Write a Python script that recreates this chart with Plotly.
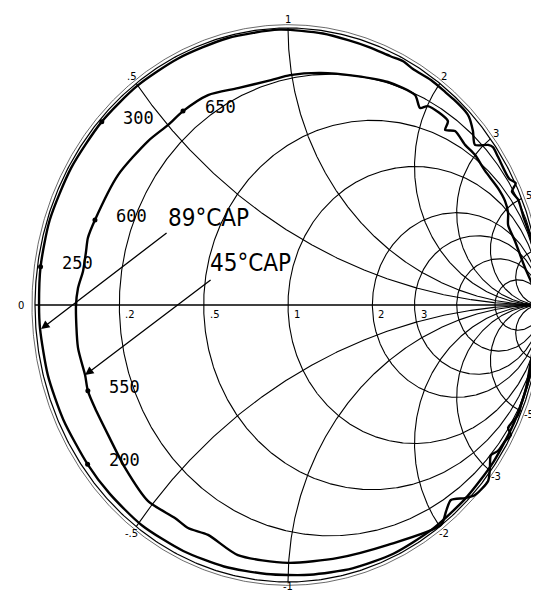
import numpy as np
import plotly.graph_objects as go

# ---------------- data (reflection coefficient) ----------------
# 89 deg CAP trace (outer), clockwise from low frequency
cap89_re = [0.99, 0.986, 0.956, 0.897, 0.811, 0.700, 0.568, 0.418, 0.255, 0.085, -0.085,
            -0.253, -0.414, -0.578, -0.705, -0.792, -0.888, -0.949, -0.980, -0.984, -0.978,
            -0.942, -0.857, -0.736, -0.596, -0.434, -0.240, -0.035, 0.138, 0.238, 0.320,
            0.405, 0.455, 0.494, 0.565, 0.62, 0.655, 0.70, 0.715, 0.731, 0.739, 0.791, 0.81,
            0.83, 0.875, 0.90, 0.885, 0.91, 0.93, 0.96, 0.975, 0.985, 0.99]
cap89_im = [-0.01, -0.086, -0.256, -0.418, -0.568, -0.700, -0.811, -0.897, -0.951, -0.974,
            -0.971, -0.944, -0.888, -0.795, -0.681, -0.575, -0.414, -0.254, -0.086, 0.0,
            0.138, 0.306, 0.495, 0.662, 0.791, 0.890, 0.963, 0.994, 0.980, 0.956, 0.931,
            0.898, 0.88, 0.852, 0.812, 0.77, 0.742, 0.70, 0.68, 0.628, 0.578, 0.578, 0.57,
            0.535, 0.455, 0.44, 0.41, 0.38, 0.32, 0.24, 0.165, 0.078, 0.01]

# 45 deg CAP trace (inner)
cap45_re = [0.988, 0.976, 0.960, 0.941, 0.921, 0.909, 0.870, 0.881, 0.858, 0.830, 0.802,
            0.798, 0.791, 0.739, 0.700, 0.644, 0.625, 0.605, 0.395, 0.198, 0.0, -0.198,
            -0.316, -0.395, -0.447, -0.553, -0.644, -0.711, -0.763, -0.791, -0.802, -0.830,
            -0.838, -0.830, -0.810, -0.798, -0.791, -0.763, -0.672, -0.553, -0.474, -0.415,
            -0.316, -0.198, -0.067, 0.008, 0.130, 0.265, 0.395, 0.502, 0.522, 0.553, 0.632,
            0.621, 0.660, 0.700, 0.739, 0.779, 0.830, 0.858, 0.870, 0.870, 0.897, 0.937,
            0.976, 0.988]
cap45_im = [-0.029, -0.119, -0.202, -0.300, -0.361, -0.397, -0.444, -0.469, -0.491, -0.527,
            -0.542, -0.588, -0.635, -0.686, -0.697, -0.704, -0.744, -0.794, -0.866, -0.913,
            -0.931, -0.903, -0.830, -0.805, -0.769, -0.708, -0.588, -0.469, -0.372, -0.310,
            -0.253, -0.155, -0.004, 0.061, 0.123, 0.195, 0.242, 0.307, 0.469, 0.592, 0.650,
            0.700, 0.758, 0.783, 0.812, 0.830, 0.838, 0.827, 0.805, 0.758, 0.711, 0.718,
            0.664, 0.632, 0.628, 0.578, 0.542, 0.484, 0.422, 0.375, 0.332, 0.289, 0.231,
            0.134, 0.051, 0.007]

# frequency markers
freq89 = ["200", "250", "300"]
freq89_re = [-0.792, -0.978, -0.736]
freq89_im = [-0.575, 0.138, 0.662]
freq45 = ["550", "600", "650"]
freq45_re = [-0.791, -0.763, -0.415]
freq45_im = [-0.310, 0.307, 0.700]

# Smith chart grid values and labels
r_grid = [0.2, 0.5, 1, 2, 3, 5, 10]
r_labels = [".2", ".5", "1", "2", "3"]
r_label_vals = [0.2, 0.5, 1, 2, 3]
x_grid = [0.5, 1, 2, 3, 5, 10]
x_label_vals = [0.5, 1, 2, 3, 5, -0.5, -1, -2, -3, -5]
x_labels = [".5", "1", "2", "3", "5", "-.5", "-1", "-2", "-3", "-5"]


def gamma(z):
    return (z - 1) / (z + 1)


fig = go.Figure()
grid_line = dict(color="black", width=1.1)

# outer boundary (double ring as printed)
t = np.linspace(0, 2 * np.pi, 721)
fig.add_trace(go.Scatter(x=np.cos(t), y=np.sin(t), mode="lines",
                         line=dict(color="black", width=1.2), hoverinfo="skip"))
fig.add_trace(go.Scatter(x=1.012 * np.cos(t), y=1.012 * np.sin(t), mode="lines",
                         line=dict(color="#444", width=0.8), hoverinfo="skip"))

# constant resistance circles
s = np.linspace(-np.pi / 2 + 1e-4, np.pi / 2 - 1e-4, 900)
for r in r_grid:
    g = gamma(r + 1j * np.tan(s))
    fig.add_trace(go.Scatter(x=g.real, y=g.imag, mode="lines", line=grid_line, hoverinfo="skip"))

# constant reactance arcs
u = np.linspace(0, np.pi / 2 - 1e-4, 600)
for xv in x_grid:
    for sgn in (1, -1):
        g = gamma(np.tan(u) + 1j * sgn * xv)
        fig.add_trace(go.Scatter(x=g.real, y=g.imag, mode="lines", line=grid_line, hoverinfo="skip"))

# real axis
fig.add_trace(go.Scatter(x=[-1, 1], y=[0, 0], mode="lines",
                         line=dict(color="black", width=1.3), hoverinfo="skip"))

# measured traces
fig.add_trace(go.Scatter(x=cap89_re, y=cap89_im, mode="lines",
                         line=dict(color="black", width=2.4, shape="spline", smoothing=0.7),
                         name="89° CAP"))
fig.add_trace(go.Scatter(x=cap45_re, y=cap45_im, mode="lines",
                         line=dict(color="black", width=2.4, shape="spline", smoothing=0.7),
                         name="45° CAP"))
fig.add_trace(go.Scatter(x=freq89_re + freq45_re, y=freq89_im + freq45_im, mode="markers",
                         marker=dict(color="black", size=5), hoverinfo="skip"))

ann = []
lab_font = dict(family="DejaVu Sans", size=10, color="black")
# real-axis labels
for v, lab in zip(r_label_vals, r_labels):
    ann.append(dict(x=gamma(v), y=0, text=lab, showarrow=False, xanchor="left", yanchor="top",
                    xshift=4, yshift=-2, font=lab_font))
ann.append(dict(x=-1, y=0, text="0", showarrow=False, xanchor="right", yanchor="middle",
                xshift=-9, font=lab_font))
# reactance labels
for v, lab in zip(x_label_vals, x_labels):
    g = gamma(1j * v) * 1.03
    ann.append(dict(x=g.real, y=g.imag, text=lab, showarrow=False, xanchor="center",
                    yanchor="middle", yshift=(4 if v == -1 else 0), font=lab_font))
# frequency labels
freq_font = dict(family="DejaVu Sans Mono", size=17, color="black")
for lab, xr, yi in zip(freq89 + freq45, freq89_re + freq45_re, freq89_im + freq45_im):
    ann.append(dict(x=xr, y=yi, text=lab, showarrow=False, xanchor="center", yanchor="middle",
                    xshift=37, yshift=4, font=freq_font))

cap_font = dict(family="Liberation Sans Narrow, DejaVu Sans Condensed, DejaVu Sans", size=24,
                color="black")
ann.append(dict(x=-0.316, y=0.314, text="89°CAP", showarrow=False, font=cap_font))
ann.append(dict(x=-0.150, y=0.152, text="45°CAP", showarrow=False, font=cap_font))
ann.append(dict(x=-0.976, y=-0.087, ax=-0.474, ay=0.264, axref="x", ayref="y", text="",
                showarrow=True, arrowhead=2, arrowsize=1.3, arrowwidth=1.3, arrowcolor="black"))
ann.append(dict(x=-0.802, y=-0.253, ax=-0.300, ay=0.094, axref="x", ayref="y", text="",
                showarrow=True, arrowhead=2, arrowsize=1.3, arrowwidth=1.3, arrowcolor="black"))

fig.update_layout(
    width=539, height=594,
    margin=dict(l=0, r=0, t=0, b=0),
    paper_bgcolor="white", plot_bgcolor="white",
    showlegend=False,
    xaxis=dict(range=[-1.1067, 1.0237], visible=False),
    yaxis=dict(range=[-1.0722, 1.0722], visible=False),
    annotations=ann,
)

fig.write_html("out.html")
